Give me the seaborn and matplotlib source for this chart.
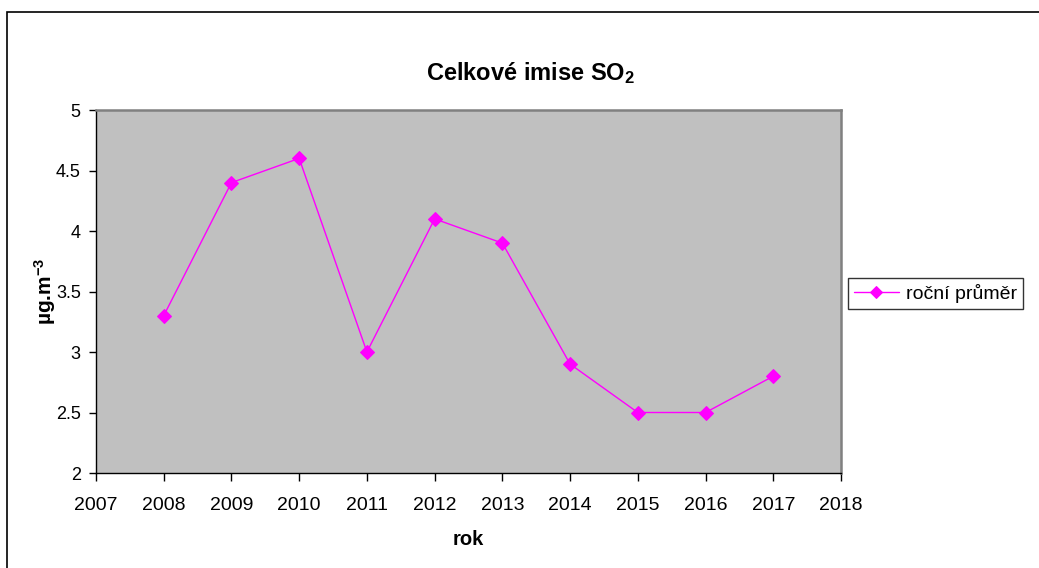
import matplotlib
matplotlib.use("Agg")
import matplotlib.pyplot as plt
from matplotlib.patches import Rectangle
import seaborn as sns
import pandas as pd

# Annual mean SO2 concentrations
years = [2008, 2009, 2010, 2011, 2012, 2013, 2014, 2015, 2016, 2017]
values = [3.3, 4.4, 4.6, 3.0, 4.1, 3.9, 2.9, 2.5, 2.5, 2.8]
series_name = "roční průměr"
x_ticks = list(range(2007, 2019))
y_ticks = [2, 2.5, 3, 3.5, 4, 4.5, 5]

sns.set_style("white")
plt.rcParams["font.family"] = ["Liberation Sans", "DejaVu Sans"]
plt.rcParams["mathtext.fontset"] = "custom"
plt.rcParams["mathtext.rm"] = "Liberation Sans"
plt.rcParams["mathtext.it"] = "Liberation Sans:italic"
plt.rcParams["mathtext.bf"] = "Liberation Sans:bold"
plt.rcParams["text.color"] = "black"
plt.rcParams["axes.labelcolor"] = "black"
plt.rcParams["xtick.color"] = "black"
plt.rcParams["ytick.color"] = "black"

df = pd.DataFrame({"rok": years, "hodnota": values})

fig = plt.figure(figsize=(10.39, 5.68), dpi=100)
ax = fig.add_axes([96 / 1039, 95 / 568, 745 / 1039, 363 / 568])
ax.set_facecolor("#C0C0C0")

sns.lineplot(data=df, x="rok", y="hodnota", ax=ax, color="#FF00FF",
             marker="D", markersize=7, markeredgecolor="#FF00FF",
             linewidth=1.0, label=series_name)

ax.set_xlim(2007, 2018)
ax.set_ylim(2, 5)
ax.set_xticks(x_ticks)
ax.set_xticklabels([str(t) for t in x_ticks])
ax.set_yticks(y_ticks)
ax.set_yticklabels([f"{t:g}" for t in y_ticks])
ax.tick_params(axis="both", direction="out", width=1, colors="black",
               bottom=True, left=True)
ax.tick_params(axis="x", length=6, labelsize=14, pad=11)
ax.tick_params(axis="y", length=5, labelsize=13, pad=6)

for side in ("left", "bottom"):
    ax.spines[side].set_color("#000000")
    ax.spines[side].set_linewidth(1.0)
for side in ("top", "right"):
    ax.spines[side].set_color("#808080")
    ax.spines[side].set_linewidth(1.8)

ax.set_xlabel("rok", fontsize=14.5, fontweight="bold", va="top")
ax.xaxis.set_label_coords(0.5, -0.158)
ax.set_ylabel(r"µg.m$^{\mathbf{-3}}$", fontsize=15, fontweight="bold")
ax.yaxis.set_label_coords(-0.051, 0.5)

fig.text(531 / 1039, 1 - 73 / 568, r"Celkové imise SO$_\mathbf{2}$",
         fontsize=17, fontweight="bold", ha="center", va="center")

leg = ax.legend(loc="center left", bbox_to_anchor=(848 / 1039, 1 - 293.5 / 568),
                bbox_transform=fig.transFigure, frameon=True, fancybox=False,
                fontsize=14, handlelength=2.3, borderpad=0.3, handletextpad=0.4,
                borderaxespad=0, markerscale=0.9)
leg.get_frame().set_edgecolor("black")
leg.get_frame().set_linewidth(1.0)

# Chart frame
fig.patches.append(Rectangle((7 / 1039, -0.1), 1.2, 1 - 12 / 568 + 0.1,
                             transform=fig.transFigure, fill=False,
                             edgecolor="black", linewidth=1.2))

fig.savefig("out.png", dpi=100, facecolor="white")
